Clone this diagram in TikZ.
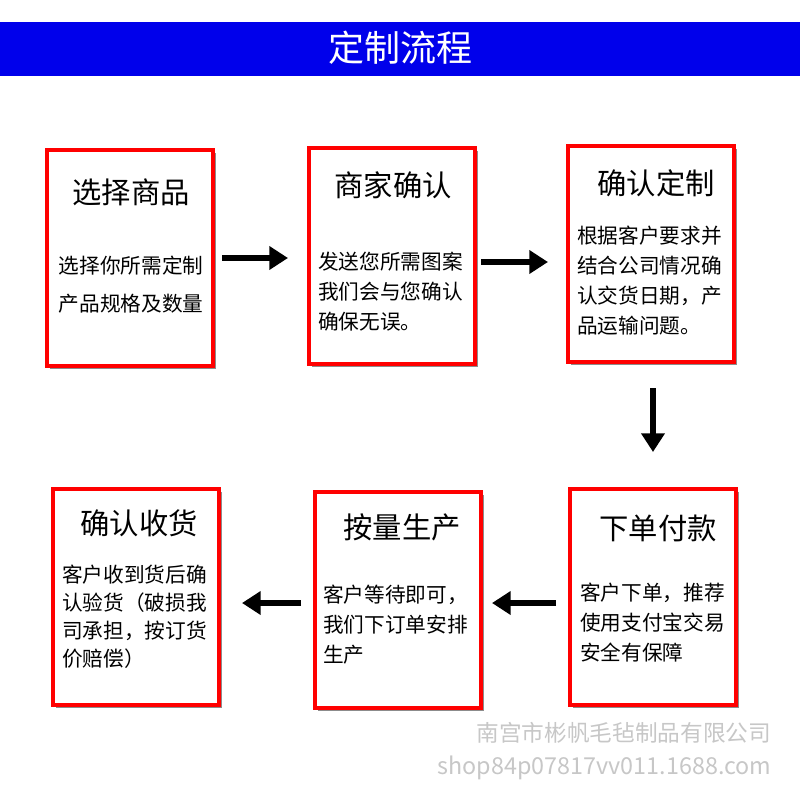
\documentclass[tikz,border=0pt]{standalone}
\usetikzlibrary{arrows.meta}
\usepackage{fontspec}
\setmainfont{Noto Sans CJK SC}
\begin{document}
\begin{tikzpicture}[x=0.75pt,y=-0.75pt,
  box/.style={draw=red,line width=3pt,fill=white,minimum width=166*0.75pt,minimum height=216*0.75pt,inner sep=0pt},
  shadow/.style={fill=black!45},
  ttl/.style={font=\fontsize{22}{26}\selectfont},
  body/.style={font=\fontsize{15.5}{22.5}\selectfont,align=left,anchor=west,inner sep=0pt},
  arr/.style={-{Triangle[length=14pt,width=17pt]},line width=4.5pt}]
\useasboundingbox (0,0) rectangle (800,800);
\fill[white] (0,0) rectangle (800,800);
\fill[blue!92!black] (0,22) rectangle (800,76);
\node[text=white,font=\fontsize{27}{32}\selectfont] (title) at (400,48) {定制流程};
% shadows
\foreach \x/\y in {130/258,392/256,651/254,653/597,398/600,136/597}
  \fill[shadow] (\x-83+3,\y-108+3) rectangle (\x+83+3,\y+108+3);
\node[box] (b1) at (130,258) {};
\node[box] (b2) at (392,256) {};
\node[box] (b3) at (651,254) {};
\node[box] (b4) at (653,597) {};
\node[box] (b5) at (398,600) {};
\node[box] (b6) at (136,597) {};
\node[ttl] (t1) at (131,192) {选择商品};
\node[ttl] (t2) at (393,185) {商家确认};
\node[ttl] (t3) at (656,183) {确认定制};
\node[ttl] (t4) at (658,528) {下单付款};
\node[ttl] (t5) at (402,527) {按量生产};
\node[ttl] (t6) at (139,523) {确认收货};
\node[font=\fontsize{15.5}{28.5}\selectfont,align=center] (x1) at (131,285) {选择你所需定制\\产品规格及数量};
\node[body] (x2) at (318,292) {发送您所需图案\\我们会与您确认\\确保无误。};
\node[body] (x3) at (577,281) {根据客户要求并\\结合公司情况确\\认交货日期，产\\品运输问题。};
\node[body] (x4) at (580,623) {客户下单，推荐\\使用支付宝交易\\安全有保障};
\node[body] (x5) at (323,625) {客户等待即可，\\我们下订单安排\\生产};
\node[body,font=\fontsize{15.5}{21}\selectfont] (x6) at (62,617) {客户收到货后确\\认验货（破损我\\司承担，按订货\\价赔偿）};
\coordinate (a1s) at (222,258); \coordinate (a1e) at (288,258);
\coordinate (a2s) at (481,262); \coordinate (a2e) at (548,262);
\coordinate (a3s) at (653,388); \coordinate (a3e) at (653,452);
\coordinate (a4s) at (556,603); \coordinate (a4e) at (492,603);
\coordinate (a5s) at (301,603); \coordinate (a5e) at (242,603);
\draw[arr] (a1s) -- (a1e);
\draw[arr] (a2s) -- (a2e);
\draw[arr] (a3s) -- (a3e);
\draw[arr] (a4s) -- (a4e);
\draw[arr] (a5s) -- (a5e);
\node[text=black!22,font=\fontsize{17}{20}\selectfont,anchor=east] (w1) at (776,733) {南宫市彬帆毛毡制品有限公司};
\node[text=black!22,font=\fontsize{17.5}{20}\selectfont,anchor=east] (w2) at (776,768) {shop84p07817vv011.1688.com};
\end{tikzpicture}
\end{document}
